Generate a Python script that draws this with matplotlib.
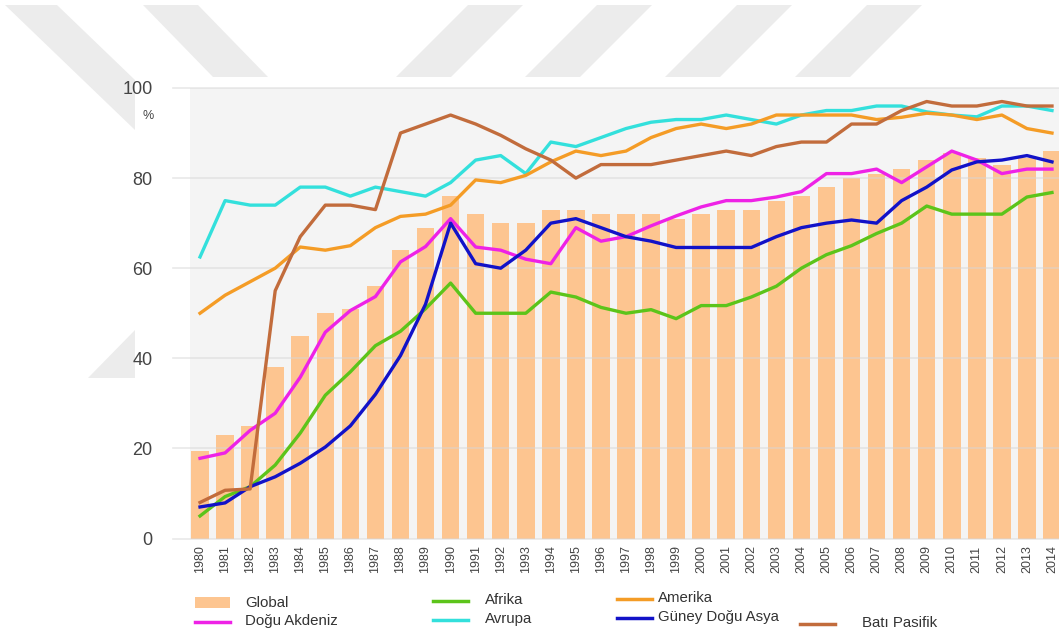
import matplotlib
matplotlib.use("Agg")
import matplotlib.pyplot as plt
from matplotlib.patches import Polygon, Rectangle
from matplotlib.lines import Line2D

W, H = 1059, 636

years = list(range(1980, 2015))

global_vals = [19.5, 23, 25, 38, 45, 50, 51, 56, 64, 69,
               76, 72, 70, 70, 73, 73, 72, 72, 72, 71,
               72, 73, 73, 75, 76, 78, 80, 81, 82, 84,
               85.5, 84.5, 83, 84.5, 86]
afrika = [5, 9.3, 11.5, 16.3, 23.4, 31.8, 37, 42.8, 46, 51,
          56.7, 50, 50, 50, 54.7, 53.6, 51.3, 50, 50.8, 48.8,
          51.7, 51.7, 53.6, 56, 60, 63, 65, 67.7, 70, 73.8,
          72, 72, 72, 75.8, 76.8]
amerika = [50, 54, 57, 60, 64.7, 64, 65, 69, 71.5, 72,
           74, 79.6, 79, 80.6, 83.6, 86, 85, 86, 89, 91,
           92, 91, 92, 94, 94, 94, 94, 93, 93.5, 94.4,
           94, 93, 94, 91, 90]
avrupa = [62.5, 75, 74, 74, 78, 78, 76, 78, 77, 76,
          79, 84, 85, 81, 88, 87, 89, 91, 92.4, 93,
          93, 94, 93, 92, 94, 95, 95, 96, 96, 94.7,
          94, 93.6, 96, 96, 95]
bati_pasifik = [8, 10.7, 11, 55, 67, 74, 74, 73, 90, 92,
                94, 92, 89.5, 86.5, 84, 80, 83, 83, 83, 84,
                85, 86, 85, 87, 88, 88, 92, 92, 95, 97,
                96, 96, 97, 96, 96]
dogu_akdeniz = [17.8, 19, 24, 27.8, 35.8, 45.8, 50.6, 53.7, 61.4, 64.8,
                71, 64.7, 64, 62, 61, 69, 66, 67, 69.4, 71.6,
                73.6, 75, 75, 75.8, 77, 81, 81, 82, 79, 82.5,
                86, 84, 81, 82, 82]
guney_dogu_asya = [7, 7.9, 11.5, 13.7, 16.7, 20.3, 25, 32, 40.6, 52,
                   70, 61, 60, 64, 70, 71, 69, 67, 66, 64.6,
                   64.6, 64.6, 64.6, 67, 69, 70, 70.7, 70, 75, 78,
                   81.8, 83.6, 84, 85, 83.6]

BAR_COLOR = "#fdc590"
series = [
    ("Doğu Akdeniz", dogu_akdeniz, "#ee22e6"),
    ("Afrika", afrika, "#5cc41a"),
    ("Avrupa", avrupa, "#33e0dc"),
    ("Amerika", amerika, "#f49c26"),
    ("Güney Doğu Asya", guney_dogu_asya, "#1212c8"),
    ("Batı Pasifik", bati_pasifik, "#c26c3c"),
]
colors = {name: c for name, _, c in series}

plt.rcParams["font.family"] = ["Liberation Sans", "DejaVu Sans"]


def px(x, y):
    # pixel position -> figure fraction
    return x / W, 1 - y / H


fig = plt.figure(figsize=(W / 100, H / 100), dpi=100)
fig.patch.set_facecolor("white")

# light grey diagonal stripes in the background
stripe_col = "#ececec"
stripes = [
    [(5, 5), (57, 5), (135, 80), (135, 130)],
    [(143, 5), (198, 5), (268, 77), (213, 77)],
    [(468, 5), (523, 5), (451, 77), (396, 77)],
    [(597, 5), (652, 5), (580, 77), (525, 77)],
    [(737, 5), (792, 5), (720, 77), (665, 77)],
    [(867, 5), (922, 5), (850, 77), (795, 77)],
    [(135, 330), (135, 378), (88, 378)],
]
for pts in stripes:
    fig.add_artist(Polygon([px(x, y) for x, y in pts], closed=True,
                           transform=fig.transFigure, facecolor=stripe_col,
                           edgecolor="none", zorder=-10))

ax_l, ax_r, ax_t, ax_b = 190, 1059, 88, 538.5
ax = fig.add_axes([ax_l / W, 1 - ax_b / H, (ax_r - ax_l) / W, (ax_b - ax_t) / H])
ax.set_facecolor("#f4f4f4")

x = list(range(len(years)))
ax.bar(x, global_vals, width=0.7, color=BAR_COLOR, zorder=2)

for yv in range(0, 101, 20):
    ax.axhline(yv, xmin=-0.02, xmax=1, color="#d6d6d6", alpha=0.55,
               lw=1.2, zorder=3, clip_on=False)

for name, vals, c in series:
    ax.plot(x, vals, color=c, lw=2.4, zorder=4, solid_joinstyle="round")

ax.set_xlim(-0.4, 34.28)
ax.set_ylim(0, 100)
for s in ax.spines.values():
    s.set_visible(False)

ax.set_yticks(range(0, 101, 20))
ax.tick_params(axis="y", length=0, pad=27, labelsize=13, labelcolor="#444444")
ax.set_xticks(x)
ax.set_xticklabels([str(yr) for yr in years], rotation=90)
ax.tick_params(axis="x", length=0, pad=5, labelsize=9, labelcolor="#444444")

fig.text(*px(148, 116), "%", fontsize=9, color="#444444", ha="center", va="center")

# legend at the bottom
txt_kw = dict(fontsize=10.8, color="#333333", va="center", ha="left")
fig.add_artist(Rectangle(px(195, 608), 35 / W, 11 / H, transform=fig.transFigure,
                         facecolor=BAR_COLOR, edgecolor="none"))
fig.text(*px(245, 603), "Global", **txt_kw)

legend_lines = [
    ("Doğu Akdeniz", 195, 622, 245),
    ("Afrika", 433, 601, 485),
    ("Avrupa", 433, 620, 485),
    ("Amerika", 617, 599, 658),
    ("Güney Doğu Asya", 617, 618, 658),
    ("Batı Pasifik", 800, 624, 862),
]
for name, x0, yy, tx in legend_lines:
    (fx0, fy), (fx1, _) = px(x0, yy), px(x0 + 35, yy)
    fig.add_artist(Line2D([fx0, fx1], [fy, fy], transform=fig.transFigure,
                          color=colors[name], lw=2.5))
    fig.text(*px(tx, yy - 1), name, **txt_kw)

fig.savefig("out.png", dpi=100)
